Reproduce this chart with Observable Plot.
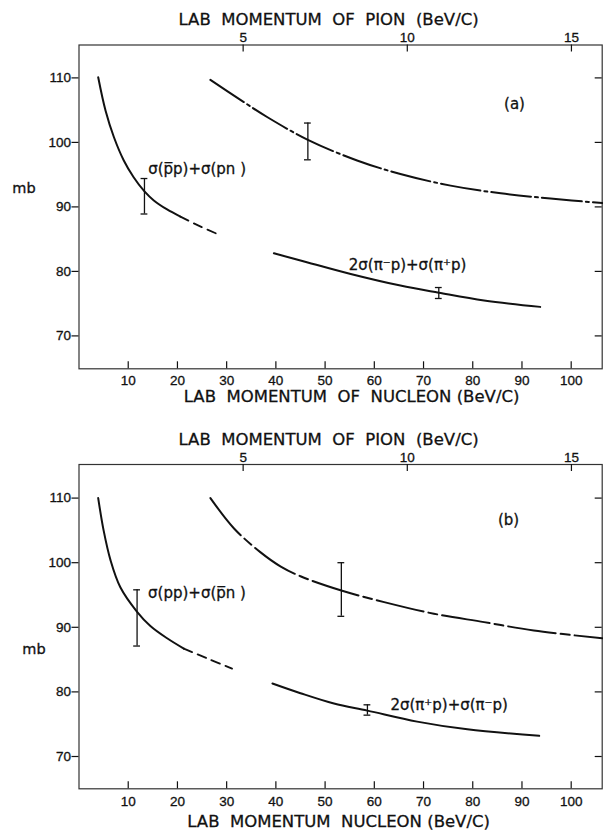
<!DOCTYPE html>
<html><head><meta charset="utf-8">
<script src="https://cdn.jsdelivr.net/npm/d3@7"></script>
<script src="https://cdn.jsdelivr.net/npm/@observablehq/plot@0.6"></script>
<style>
body{margin:0;background:#fff;}
#chart svg{display:block;}
#chart svg text{stroke:#111;stroke-width:0.3px;}
</style></head><body><div id="chart"></div>
<script>
// ---- shared axes ----
const nucleonTicks = [10,20,30,40,50,60,70,80,90,100];
const pionTicks = [5,10,15];
const pionToNucleon = 6.67;
const mbTicks = [70,80,90,100,110];

// ---- panel (a) ----
const aNucX = [3.9,5.4,7.1,9.1,11.1,13.3,15.2,17.9,20.6];
const aNucY = [110.1,104.9,100.8,97.2,94.6,92.4,91.0,89.6,88.5];
const aNucExtX = [20.6,24.3,28.1];
const aNucExtY = [88.5,87.1,85.8];
const aPiX = [39.6,45.0,55.2,65.3,73.1,82.3,93.7];
const aPiY = [82.8,81.7,79.6,77.8,76.7,75.5,74.5];
const aSumX = [26.7,32.8,38.3,46.5,56.5,65.3,75.5,85.7,95.8,106.3];
const aSumY = [109.7,106.6,103.9,100.4,97.2,95.1,93.3,92.1,91.3,90.6];
const aErrX = [13.3,46.5,73.1];
const aErrLow = [88.9,97.3,75.8];
const aErrHigh = [94.4,103.0,77.5];
const aLabels = ["σ(p\u0305p)+σ(pn )", "2σ(π⁻p)+σ(π⁺p)"];

// ---- panel (b) ----
const bNucX = [3.9,5.0,6.4,8.4,11.8,14.5,17.9,21.3];
const bNucY = [110.0,105.0,100.4,96.2,92.4,90.2,88.3,86.7];
const bNucExtX = [21.3,26.0,31.1];
const bNucExtY = [86.7,85.2,83.6];
const bPiX = [39.3,45.0,51.8,58.6,68.7,78.9,93.5];
const bPiY = [81.3,79.8,78.2,77.1,75.4,74.2,73.2];
const bSumX = [26.7,31.5,36.9,41.0,45.0,53.3,62.0,72.1,82.3,92.4,106.3];
const bSumY = [110.0,105.3,101.6,99.4,97.9,95.7,93.9,92.1,90.8,89.5,88.3];
const bErrX = [11.8,53.3,58.6];
const bErrLow = [87.1,91.7,76.4];
const bErrHigh = [95.8,100.0,78.0];
const bLabels = ["σ(pp)+σ(p\u0305n )", "2σ(π⁺p)+σ(π⁻p)"];

const ink = "#111";
const W = 603, mL = 78.5, mR = 1.3;
const innerW = W - mL - mR;

function pts(X, Y) { return X.map((x, i) => ({x, y: Y[i]})); }

function panel(cfg) {
  const innerH = cfg.height - cfg.mT - cfg.mB;
  const err = cfg.errX.map((x, i) => ({x, low: cfg.errLow[i], high: cfg.errHigh[i]}));
  const lineOpts = {x: "x", y: "y", curve: "catmull-rom", stroke: ink, strokeWidth: 2};
  const lbl = (i, dx, dy) => Plot.text([{x: cfg.errX[i], y: cfg.errHigh[i], t: cfg.labels[i === 0 ? 0 : 1]}],
    {x: "x", y: "y", text: "t", dx, dy, textAnchor: "start", lineAnchor: "middle", fontSize: 15, fill: ink, ariaLabel: "series-label"});
  const svg = Plot.plot({
    width: W, height: cfg.height,
    marginLeft: mL, marginRight: mR, marginTop: cfg.mT, marginBottom: cfg.mB,
    style: {fontFamily: "DejaVu Sans", background: "#fff", color: ink},
    x: {domain: [0, 106.3], axis: null},
    y: {domain: cfg.yDomain, axis: null},
    marks: [
      Plot.frame({stroke: "#333", strokeWidth: 1.2}),
      // ticks
      Plot.axisY(mbTicks, {anchor: "left", tickSize: 7, tickPadding: 1, fontSize: 13.5, fontFamily: "Liberation Sans", label: null, strokeWidth: 1.2}),
      Plot.tickY(mbTicks, {y: d => d, insetLeft: innerW - 7, stroke: ink, strokeWidth: 1.2}),
      Plot.axisX(nucleonTicks, {anchor: "bottom", tickSize: 0, tickPadding: cfg.botPad, fontSize: 13.5, fontFamily: "Liberation Sans", label: null}),
      Plot.tickX(nucleonTicks, {x: d => d, insetTop: innerH - 7, stroke: ink, strokeWidth: 1.2}),
      Plot.axisX(pionTicks.map(p => p * pionToNucleon), {anchor: "top", tickSize: 0, tickPadding: 3, fontSize: 13.5, fontFamily: "Liberation Sans", label: null, tickFormat: d => Math.round(d / pionToNucleon)}),
      Plot.tickX(pionTicks.map(p => p * pionToNucleon), {x: d => d, insetBottom: innerH - 7, stroke: ink, strokeWidth: 1.2}),
      // titles
      Plot.text(["LAB  MOMENTUM  OF  PION  (BeV/C)"], {frameAnchor: "top", dx: -12, dy: -20, lineAnchor: "bottom", fontSize: 16.5, fill: ink, ariaLabel: "title"}),
      Plot.text([cfg.bottomTitle], {frameAnchor: "bottom", dx: cfg.botTitleDx, dy: cfg.botTitleDy, lineAnchor: "bottom", fontSize: 16.5, fill: ink, ariaLabel: "title-bottom"}),
      Plot.text(["mb"], {frameAnchor: "left", dx: cfg.mbDx, dy: cfg.mbDy, textAnchor: "middle", lineAnchor: "middle", fontSize: 14.5, fill: ink}),
      Plot.text([cfg.tag], {frameAnchor: "top-right", dx: cfg.tagDx, dy: cfg.tagDy, textAnchor: "middle", lineAnchor: "middle", fontSize: 15, fill: ink, ariaLabel: "tag"}),
      // curves
      Plot.line(pts(cfg.nucX, cfg.nucY), lineOpts),
      Plot.line(pts(cfg.nucExtX, cfg.nucExtY), {...lineOpts, strokeDasharray: "9,6", strokeWidth: 1.8}),
      Plot.line(pts(cfg.piX, cfg.piY), lineOpts),
      Plot.line(pts(cfg.sumX, cfg.sumY), {...lineOpts, strokeDasharray: cfg.sumDash}),
      // error bars
      Plot.ruleX(err, {x: "x", y1: "low", y2: "high", stroke: ink, strokeWidth: 1.3}),
      Plot.ruleY(err, {y: "low", x1: "x", x2: "x", insetLeft: -3.4, insetRight: -3.4, stroke: ink, strokeWidth: 1.3}),
      Plot.ruleY(err, {y: "high", x1: "x", x2: "x", insetLeft: -3.4, insetRight: -3.4, stroke: ink, strokeWidth: 1.3}),
      // series labels
      lbl(0, cfg.l1dx, cfg.l1dy),
      lbl(2, cfg.l2dx, cfg.l2dy)
    ]
  });
  svg.querySelectorAll('g[aria-label="title"]').forEach(g => g.setAttribute("letter-spacing", "1.8"));
  svg.querySelectorAll('g[aria-label="title-bottom"]').forEach(g => g.setAttribute("letter-spacing", "2.2"));
  svg.querySelectorAll('g[aria-label="series-label"]').forEach(g => g.setAttribute("letter-spacing", "2"));
  svg.querySelectorAll('g[aria-label="tag"]').forEach(g => g.setAttribute("letter-spacing", "1"));
  return svg;
}

const chart = document.getElementById("chart");
chart.appendChild(panel({
  height: 420, mT: 44.5, mB: 51.7, yDomain: [64.9, 115.1], botPad: 7,
  nucX: aNucX, nucY: aNucY, nucExtX: aNucExtX, nucExtY: aNucExtY,
  piX: aPiX, piY: aPiY, sumX: aSumX, sumY: aSumY,
  errX: aErrX, errLow: aErrLow, errHigh: aErrHigh, labels: aLabels,
  sumDash: "40,4,3,4",
  bottomTitle: "LAB  MOMENTUM  OF  NUCLEON (BeV/C)", botTitleDx: 11, botTitleDy: 33,
  mbDx: -55, mbDy: -18.7, tag: "(a)", tagDx: -87.7, tagDy: 58.8,
  l1dx: 3.7, l1dy: -9.4, l2dx: -90, l2dy: -22.7
}));
chart.appendChild(panel({
  height: 414, mT: 44, mB: 45.7, yDomain: [65.0, 115.2], botPad: 7.5,
  nucX: bNucX, nucY: bNucY, nucExtX: bNucExtX, nucExtY: bNucExtY,
  piX: bPiX, piY: bPiY, sumX: bSumX, sumY: bSumY,
  errX: bErrX, errLow: bErrLow, errHigh: bErrHigh, labels: bLabels,
  sumDash: "48,5,9,5",
  bottomTitle: "LAB  MOMENTUM  NUCLEON (BeV/C)", botTitleDx: -2, botTitleDy: 38,
  mbDx: -45, mbDy: 22.8, tag: "(b)", tagDx: -93.7, tagDy: 56,
  l1dx: 11, l1dy: 3.7, l2dx: 23, l2dy: 0
}));
</script></body></html>
